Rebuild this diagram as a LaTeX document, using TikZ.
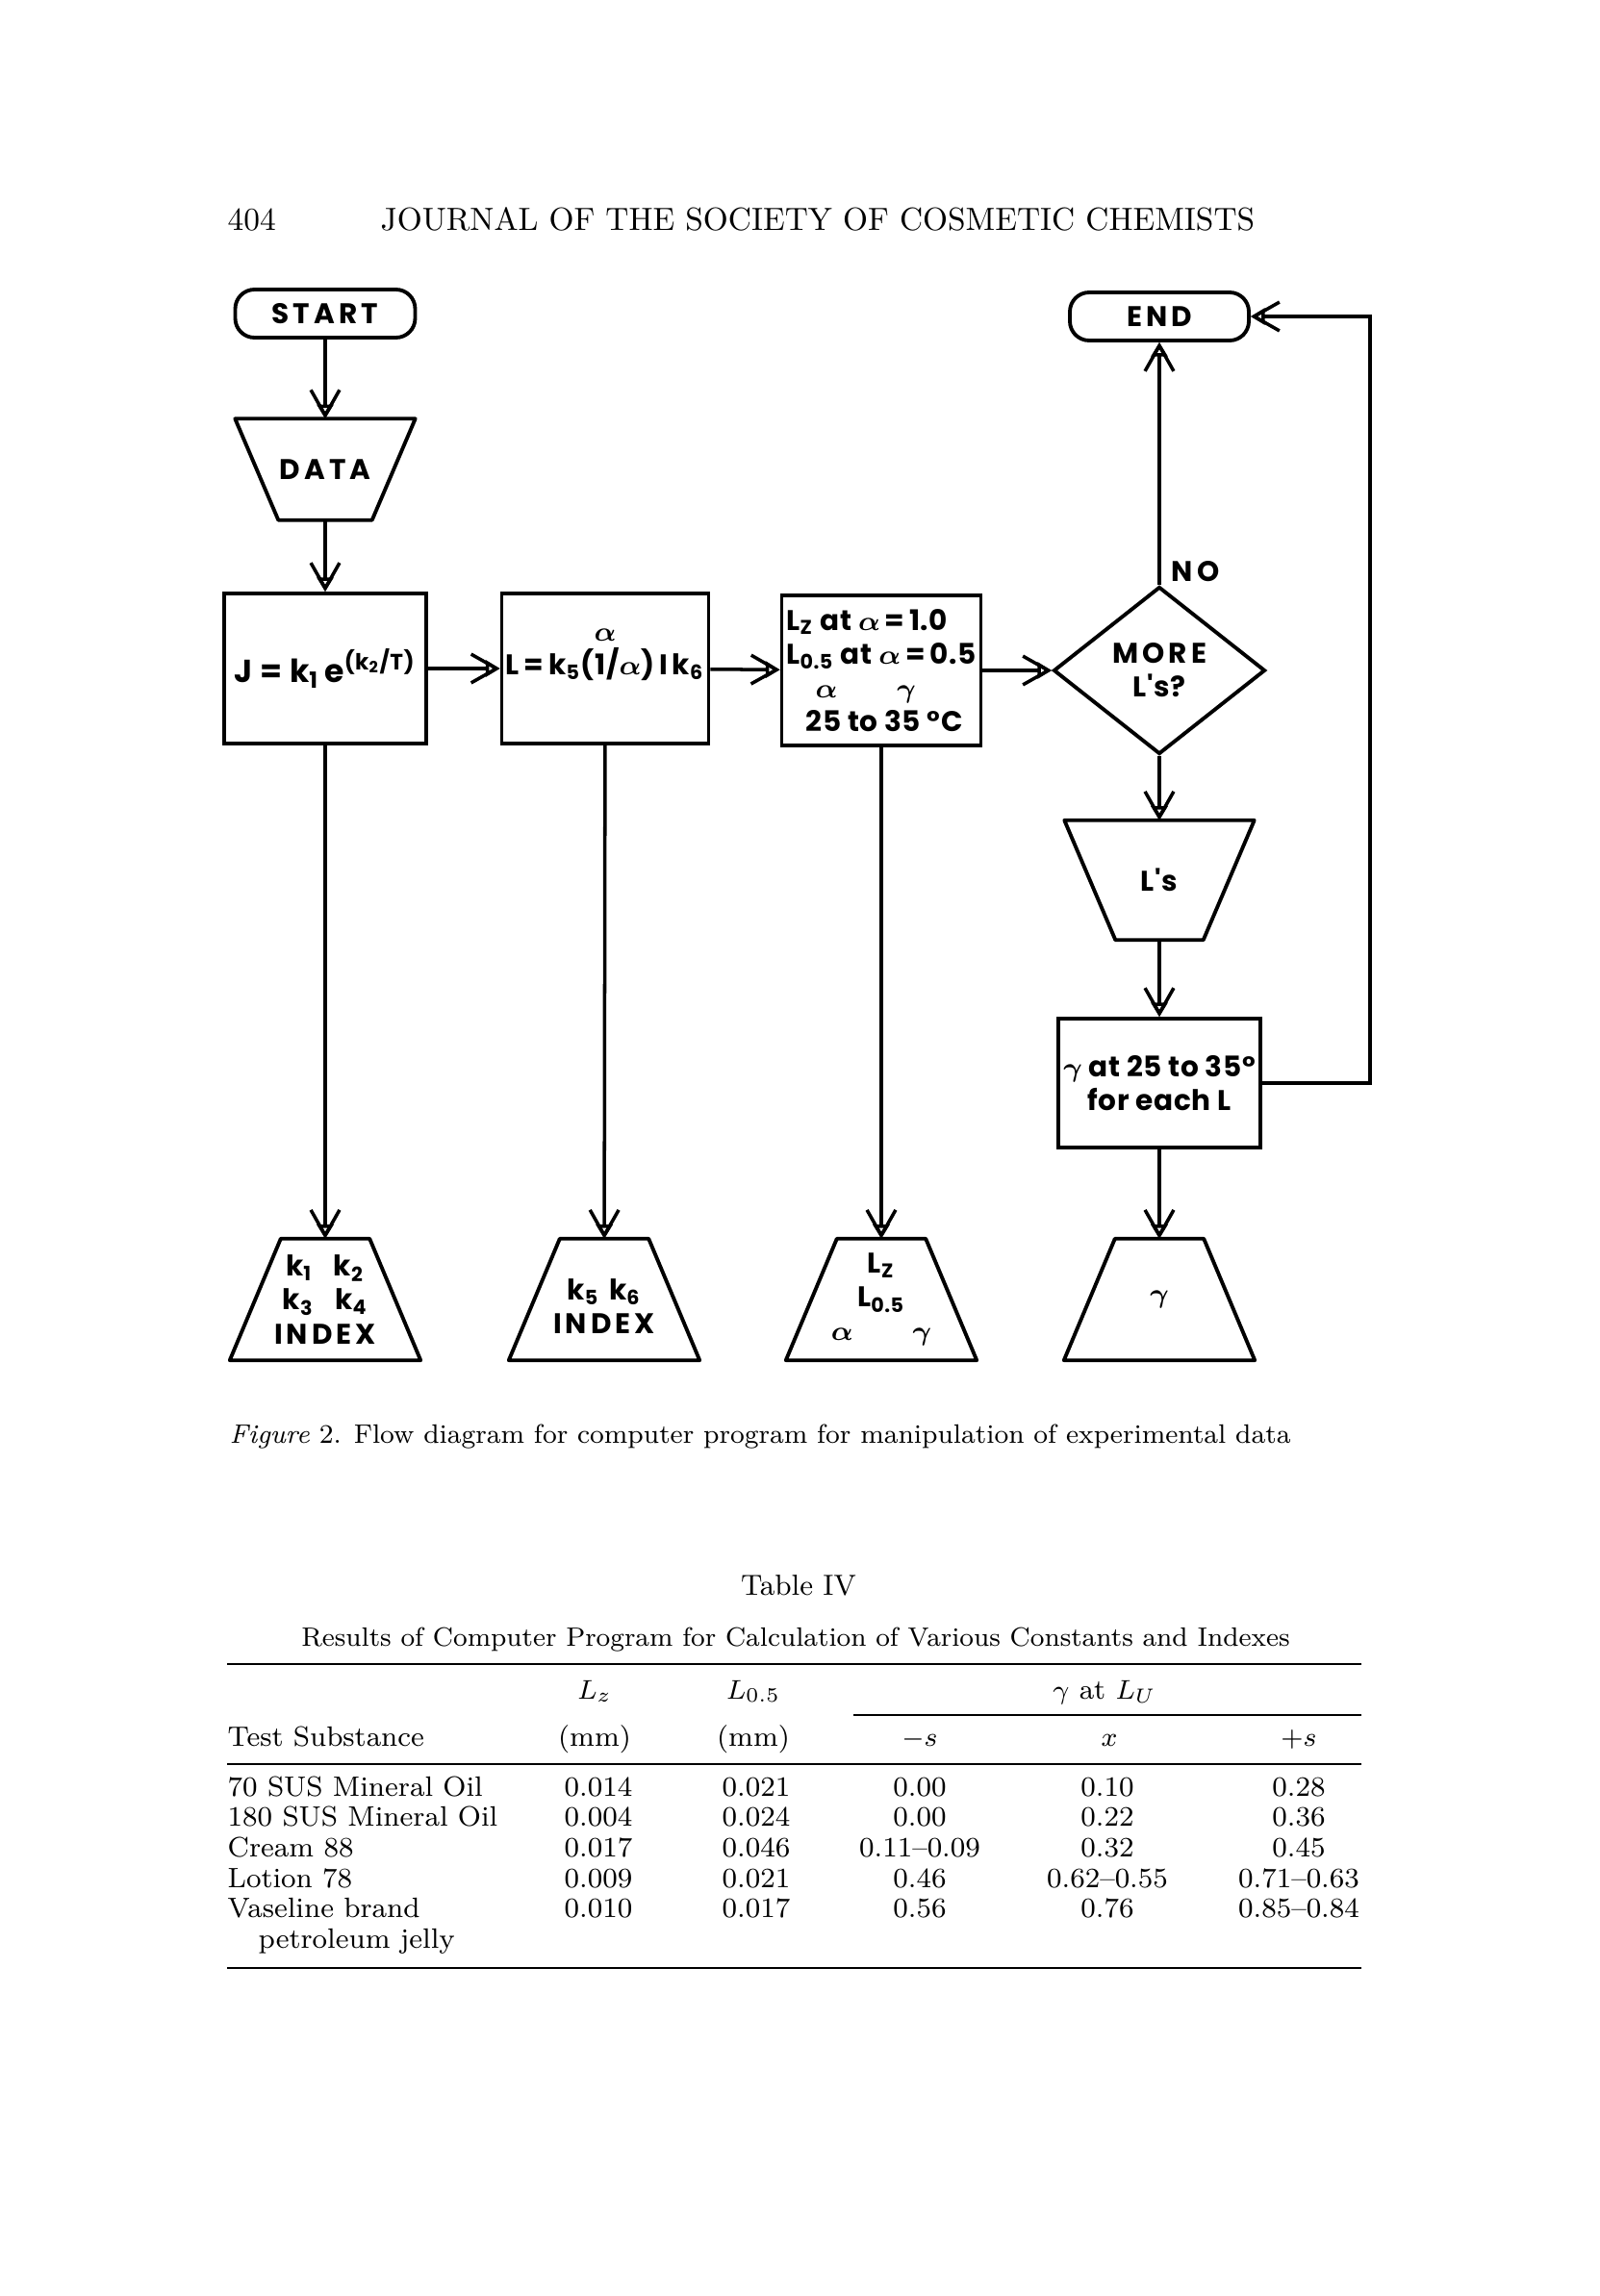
\documentclass[tikz,border=0pt]{standalone}
\usepackage{fontspec}
\usetikzlibrary{arrows.meta,shapes.geometric,positioning}
\newfontfamily\lettering{Poppins}[LetterSpace=2]

\def\sheet{(0,0) rectangle (16.62,-23.87)}
\def\spaced{\addfontfeature{LetterSpace=14}}

\tikzset{
    tag/.style={inner sep=0pt, align=center, font=\lettering\bfseries\boldmath\fontsize{8.4}{10}\selectfont},
    box/.style={tag, draw, line width=1.1pt},
    outline/.style={line width=1.1pt, line join=round},
    term/.style={box, rounded corners=0.2cm, minimum width=1.87cm, minimum height=0.5cm},
    proc/.style={box, minimum width=2.12cm, minimum height=1.56cm},
    card/.style={tag, minimum width=1.97cm, minimum height=1.25cm},
    decide/.style={box, diamond, aspect=1.26, minimum width=2.2cm, minimum height=1.74cm},
    flow/.style={line width=1pt,
        -{Straight Barb[length=7.5pt,width=8.5pt,sep=-4.2pt] Triangle[open,length=4.2pt,width=4.8pt]}},
    cell/.style={inner sep=0pt, font=\fontsize{8.3}{10}\selectfont},
    rule/.style={line width=0.5pt},
}

\begin{document}
\begin{tikzpicture}
    \fill[white] \sheet;
    \useasboundingbox \sheet;

    % running head
    \node[cell, anchor=base west, font=\fontsize{9.5}{11}\selectfont] (folio) at (2.36,-2.39) {404};
    \node[cell, anchor=base west, font=\fontsize{9.5}{11}\selectfont] (runhead) at (3.95,-2.39)
        {JOURNAL OF THE SOCIETY OF COSMETIC CHEMISTS};

    % flow diagram
    \node[term] (start) at (3.38,-3.26) {\spaced START};
    \node[card, minimum width=1.86cm, minimum height=1.04cm] (data) at (3.38,-4.88) {\spaced DATA};
    \node[proc, minimum width=2.1cm, font=\lettering\bfseries\fontsize{9.4}{11}\selectfont] (jfit) at (3.38,-6.95)
        {J = k\textsubscript{1}\,e\textsuperscript{(k\textsubscript{2}/T)}};
    \node[proc, minimum width=2.15cm] (alpha) at (6.29,-6.95)
        {$\alpha$\\ L\,=\,k\textsubscript{5}(1/$\alpha$)\,I\,k\textsubscript{6}\\ \mbox{}};
    \node[proc, minimum width=2.07cm, align=left] (lzbox) at (9.16,-6.97)
        {L\textsubscript{Z} at $\alpha$\,=\,1.0\\
         L\textsubscript{0.5} at $\alpha$\,=\,0.5\\
         \hspace*{0.3cm}$\alpha$\hspace{0.62cm}$\gamma$\\
         \hspace*{0.2cm}25 to 35 °C};
    \node[decide] (more) at (12.05,-6.97) {\spaced MORE\\L's?};
    \node[term, minimum width=1.86cm] (stop) at (12.05,-3.29) {\spaced END};
    \node[tag, above right=0.03cm and 0.12cm of more.north] (no) {\spaced NO};
    \node[card, minimum width=1.96cm, minimum height=1.23cm] (ls) at (12.05,-9.15) {L's};
    \node[proc, minimum width=2.1cm, minimum height=1.34cm] (gam) at (12.05,-11.26)
        {$\gamma$ at 25 to 35°\\for each L};

    \node[card] (kidx) at (3.38,-13.51)
        {k\textsubscript{1}\hspace{0.22cm}k\textsubscript{2}\\k\textsubscript{3}\hspace{0.22cm}k\textsubscript{4}\\{\spaced INDEX}};
    \node[card] (kidxb) at (6.28,-13.51)
        {\mbox{}\\k\textsubscript{5}\hspace{0.1cm}k\textsubscript{6}\\{\spaced INDEX}};
    \node[card] (lout) at (9.16,-13.51)
        {L\textsubscript{Z}\\L\textsubscript{0.5}\\$\alpha$\hspace{0.62cm}$\gamma$};
    \node[card] (gout) at (12.05,-13.51) {$\gamma$};

    % trapezoid outlines: input cards wide on top, output cards wide at the bottom
    \foreach \c/\d in {data/0.45, ls/0.53}
        \draw[outline] (\c.north west) -- (\c.north east) -- ([xshift=-\d cm]\c.south east)
            -- ([xshift=\d cm]\c.south west) -- cycle;
    \foreach \c in {kidx, kidxb, lout, gout}
        \draw[outline] ([xshift=0.53cm]\c.north west) -- ([xshift=-0.53cm]\c.north east)
            -- (\c.south east) -- (\c.south west) -- cycle;

    \draw[flow] (start) -- (data);
    \draw[flow] (data) -- (jfit);
    \draw[flow] (jfit) -- (alpha);
    \draw[flow] (alpha) -- (lzbox);
    \draw[flow] (lzbox) -- (more);
    \draw[flow] (more) -- (stop);
    \draw[flow] (more) -- (ls);
    \draw[flow] (ls) -- (gam);
    \draw[flow] (gam.east) -- ++(1.12,0) |- (stop.east);
    \foreach \a/\b in {jfit/kidx, alpha/kidxb, lzbox/lout, gam/gout}
        \draw[flow] (\a) -- (\b);

    \node[cell, anchor=base west, font=\fontsize{7.9}{10}\selectfont] (caption) at (2.38,-15.00)
        {\textit{Figure} 2. Flow diagram for computer program for manipulation of experimental data};

    % table
    \node[cell, anchor=base, font=\fontsize{8.6}{10}\selectfont] (ttitle) at (8.30,-16.58) {Table IV};
    \node[cell, anchor=base, font=\fontsize{7.85}{10}\selectfont] (tsub) at (8.27,-17.11)
        {Results of Computer Program for Calculation of Various Constants and Indexes};
    \draw[rule] (2.36,-17.30) -- (14.15,-17.30);
    \node[cell, anchor=base] (hlz) at (6.18,-17.66) {$L_z$};
    \node[cell, anchor=base] (hlh) at (7.83,-17.66) {$L_{0.5}$};
    \node[cell, anchor=base] (hgam) at (11.48,-17.66) {$\gamma$ at $L_U$};
    \draw[rule] (8.87,-17.83) -- (14.15,-17.83);
    \node[cell, anchor=base west] (hsub) at (2.36,-18.15) {Test Substance};
    \node[cell, anchor=base] (hmma) at (6.18,-18.15) {(mm)};
    \node[cell, anchor=base] (hmmb) at (7.83,-18.15) {(mm)};
    \node[cell, anchor=base] (hms) at (9.56,-18.15) {$-s$};
    \node[cell, anchor=base] (hmx) at (11.53,-18.15) {$x$};
    \node[cell, anchor=base] (hps) at (13.50,-18.15) {$+s$};
    \draw[rule] (2.36,-18.34) -- (14.15,-18.34);

    \foreach \tsub/\tlz/\tlh/\tms/\tmx/\tps [count=\n] in {
        70 SUS Mineral Oil/0.014/0.021/0.00/0.10/0.28,
        180 SUS Mineral Oil/0.004/0.024/0.00/0.22/0.36,
        Cream 88/0.017/0.046/0.11--0.09/0.32/0.45,
        Lotion 78/0.009/0.021/0.46/0.62--0.55/0.71--0.63,
        Vaseline brand/0.010/0.017/0.56/0.76/0.85--0.84}
    {
        \node[cell, anchor=base west] (row\n) at (2.36,{-18.67-0.317*(\n-1)}) {\tsub};
        \foreach \v/\x [count=\k] in {\tlz/6.22,\tlh/7.86,\tms/9.56,\tmx/11.51,\tps/13.50}
            \node[cell, anchor=base] (cell\n-\k) at (\x,{-18.67-0.317*(\n-1)}) {\v};
    }
    \node[cell, anchor=base west] (row6) at (2.68,-20.25) {petroleum jelly};
    \draw[rule] (2.36,-20.46) -- (14.15,-20.46);
\end{tikzpicture}
\end{document}
